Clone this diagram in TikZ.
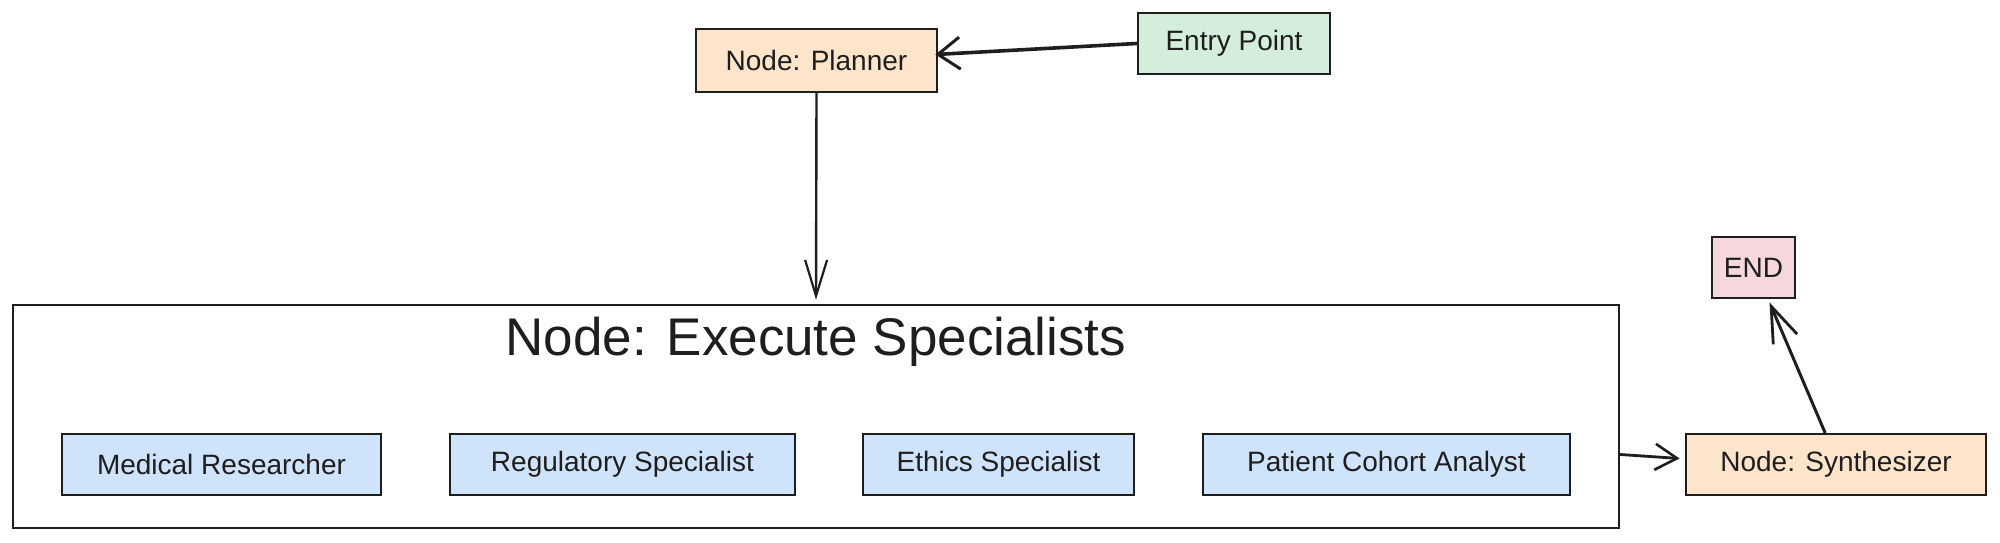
\documentclass[tikz,border=0pt]{standalone}
\usepackage{fontspec}
\setmainfont{Liberation Sans}
\usetikzlibrary{arrows.meta}
\definecolor{peach}{HTML}{FDE5CC}
\definecolor{mint}{HTML}{D5EEDB}
\definecolor{rose}{HTML}{F5D7DC}
\definecolor{sky}{HTML}{CFE3FA}
\definecolor{ink}{HTML}{1E1E1E}
\tikzset{
  box/.style={draw=ink, line width=2.8pt, rectangle, inner sep=0pt, minimum height=61pt,
    font=\fontsize{28}{32}\selectfont, text=ink},
  plain/.style={box, fill=peach},
  greenbox/.style={box, fill=mint},
  pinkbox/.style={box, fill=rose},
  bluebox/.style={box, fill=sky},
  group/.style={draw=ink, line width=2.6pt, rectangle, inner sep=0pt},
  conn/.style={draw=ink, line width=2.4pt, line cap=round},
}
\begin{document}
\begin{tikzpicture}[x=1pt, y=-1pt]
\useasboundingbox (0,0) rectangle (2000,543);
\fill[white] (0,0) rectangle (2000,543);

\node[group, minimum width=1606pt, minimum height=223pt] (main) at (816,416.5) {};
\node[font=\fontsize{53}{58}\selectfont, text=ink, inner sep=0pt] (title) at (816,342) {Node: Execute Specialists};

\node[plain, minimum width=241pt, minimum height=63pt] (planner) at (816.5,60.5) {Node: Planner};
\node[greenbox, minimum width=192pt] (entry) at (1234,43.5) {Entry Point};

\node[bluebox, minimum width=319pt] (med) at (221.5,464.5) {Medical Researcher};
\node[bluebox, minimum width=345pt] (reg) at (622.5,464.5) {Regulatory Specialist};
\node[bluebox, minimum width=271pt] (eth) at (998.5,464.5) {Ethics Specialist};
\node[bluebox, minimum width=367pt] (pat) at (1386.5,464.5) {Patient Cohort Analyst};

\node[plain, minimum width=300pt] (synth) at (1836,464.5) {Node: Synthesizer};
\node[pinkbox, minimum width=83pt] (endn) at (1753.5,267.5) {END};

\draw[conn, line width=3.6pt, -{Straight Barb[length=22pt, width=32pt, line width=3pt]}]
  (entry.west) -- ([yshift=6pt, xshift=-3pt]planner.east);
\draw[conn, line width=2.4pt, -{Straight Barb[length=36pt, width=22pt, line width=2.2pt]}]
  (planner.south) -- ([yshift=4pt]main.north);
\draw[conn, line width=2.8pt, -{Straight Barb[length=22pt, width=26pt, line width=2.6pt]}]
  ([yshift=10pt]main.east |- synth.west) -- ([yshift=6pt, xshift=-5pt]synth.west);
\draw[conn, line width=3pt, -{Straight Barb[length=36pt, width=26pt, line width=2.8pt]}]
  ([xshift=-11pt]synth.north) -- ([xshift=16pt, yshift=-3pt]endn.south);
\end{tikzpicture}
\end{document}
